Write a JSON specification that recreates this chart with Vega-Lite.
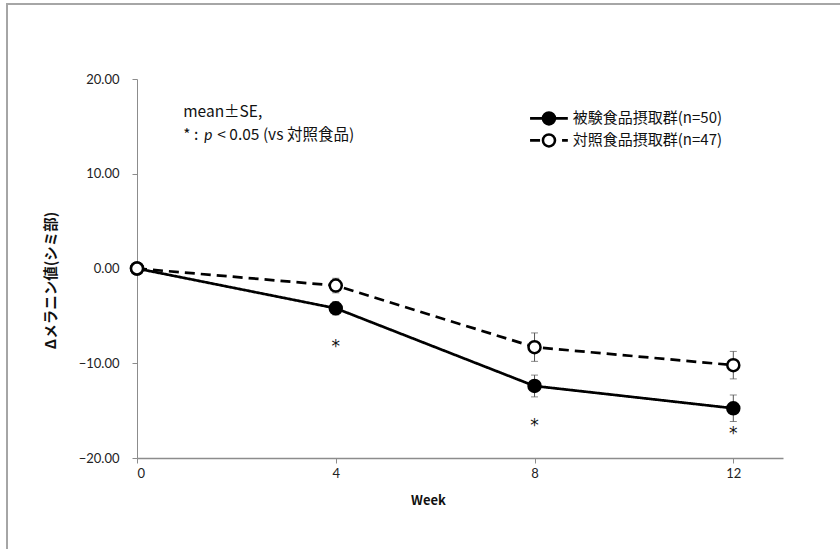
{
  "$schema": "https://vega.github.io/schema/vega-lite/v6.json",
  "width": 646,
  "height": 379,
  "padding": {"left": 137, "top": 79, "right": 57, "bottom": 91},
  "autosize": {"type": "none"},
  "background": "white",
  "config": {
    "view": {"stroke": null},
    "font": "Lato",
    "axis": {
      "grid": false,
      "domainColor": "#8c8c8c",
      "tickColor": "#8c8c8c",
      "labelColor": "#222222",
      "labelFont": "Lato",
      "labelFontSize": 13,
      "titleFont": "Noto Sans CJK JP",
      "titleFontSize": 13,
      "titleFontWeight": "bold",
      "titleColor": "#111111"
    }
  },
  "datasets": {
    "pts": [
      {"week": 0, "group": "被験食品摂取群(n=50)", "mean": 0, "se": 0},
      {"week": 4, "group": "被験食品摂取群(n=50)", "mean": -4.2, "se": 0.7},
      {"week": 8, "group": "被験食品摂取群(n=50)", "mean": -12.4, "se": 1.15},
      {"week": 12, "group": "被験食品摂取群(n=50)", "mean": -14.75, "se": 1.4},
      {"week": 0, "group": "対照食品摂取群(n=47)", "mean": 0, "se": 0},
      {"week": 4, "group": "対照食品摂取群(n=47)", "mean": -1.8, "se": 0.77},
      {"week": 8, "group": "対照食品摂取群(n=47)", "mean": -8.3, "se": 1.5},
      {"week": 12, "group": "対照食品摂取群(n=47)", "mean": -10.2, "se": 1.45}
    ],
    "sig": [
      {"week": 4, "y": -8.0, "label": "*"},
      {"week": 8, "y": -16.3, "label": "*"},
      {"week": 12, "y": -17.2, "label": "*"}
    ],
    "key": [
      {"group": "被験食品摂取群(n=50)", "x0": 7.91, "x1": 8.67, "xm": 8.29, "xt": 8.77, "y": 15.84},
      {"group": "対照食品摂取群(n=47)", "x0": 7.91, "x1": 8.67, "xm": 8.29, "xt": 8.77, "y": 13.52}
    ],
    "notes": [
      {"week": 0.93, "y": 16.5, "t": "mean±SE,"},
      {"week": 0.93, "y": 14.1, "t": "* :"}
    ],
    "notesP": [
      {"week": 0.93, "y": 14.1, "t": "p"}
    ],
    "notesRest": [
      {"week": 0.93, "y": 14.1, "t": "< 0.05 (vs 対照食品)"}
    ]
  },
  "layer": [
    {
      "data": {"name": "pts"},
      "mark": {"type": "errorbar", "ticks": {"size": 7, "thickness": 1, "color": "#555555"}, "rule": {"stroke": "#555555", "strokeWidth": 1}},
      "encoding": {
        "x": {
          "field": "week",
          "type": "quantitative",
          "title": "Week",
          "scale": {"domain": [0, 13], "nice": false, "zero": false},
          "axis": {
            "values": [0, 4, 8, 12],
            "format": "d",
            "domainWidth": 1.5,
            "tickSize": 5,
            "labelPadding": 4,
            "titlePadding": 14,
            "titleX": 291,
            "titleAlign": "center"
          }
        },
        "y": {
          "field": "mean",
          "type": "quantitative",
          "title": "Δメラニン値(シミ部)",
          "scale": {"domain": [-20, 20], "nice": false, "zero": false},
          "axis": {
            "values": [-20, -10, 0, 10, 20],
            "format": ".2f",
            "tickSize": 5,
            "labelPadding": 13,
            "titlePadding": 20,
            "titleFontSize": 14.5,
            "titleY": 201
          }
        },
        "yError": {"field": "se"}
      }
    },
    {
      "data": {"name": "pts"},
      "mark": {"type": "rect", "fill": null, "stroke": "#a6a6a6", "strokeWidth": 1.5, "clip": false},
      "encoding": {
        "x": {"datum": -2.62, "type": "quantitative", "title": "Week"},
        "x2": {"datum": 20},
        "y": {"datum": 27.9, "type": "quantitative", "title": "Δメラニン値(シミ部)"},
        "y2": {"datum": -40}
      }
    },
    {
      "data": {"name": "pts"},
      "mark": {"type": "line", "stroke": "black", "strokeWidth": 2.7},
      "encoding": {
        "x": {"field": "week", "type": "quantitative", "title": "Week"},
        "y": {"field": "mean", "type": "quantitative", "title": "Δメラニン値(シミ部)"},
        "strokeDash": {
          "field": "group",
          "type": "nominal",
          "scale": {"domain": ["被験食品摂取群(n=50)", "対照食品摂取群(n=47)"], "range": [[1, 0], [10, 6]]},
          "legend": null
        }
      }
    },
    {
      "data": {"name": "key"},
      "mark": {"type": "rule", "stroke": "black", "strokeWidth": 2.7},
      "encoding": {
        "x": {"field": "x0", "type": "quantitative", "title": "Week"},
        "x2": {"field": "x1"},
        "y": {"field": "y", "type": "quantitative", "title": "Δメラニン値(シミ部)"},
        "strokeDash": {"field": "group", "type": "nominal", "legend": null}
      }
    },
    {
      "data": {"name": "pts"},
      "mark": {"type": "point", "shape": "circle", "filled": true, "stroke": "black", "strokeWidth": 2.5, "size": 144, "opacity": 1},
      "encoding": {
        "x": {"field": "week", "type": "quantitative", "title": "Week"},
        "y": {"field": "mean", "type": "quantitative", "title": "Δメラニン値(シミ部)"},
        "fill": {
          "field": "group",
          "type": "nominal",
          "scale": {"domain": ["被験食品摂取群(n=50)", "対照食品摂取群(n=47)"], "range": ["black", "white"]},
          "legend": null
        }
      }
    },
    {
      "data": {"name": "key"},
      "mark": {"type": "point", "shape": "circle", "filled": true, "stroke": "black", "strokeWidth": 2.5, "size": 144, "opacity": 1},
      "encoding": {
        "x": {"field": "xm", "type": "quantitative", "title": "Week"},
        "y": {"field": "y", "type": "quantitative", "title": "Δメラニン値(シミ部)"},
        "fill": {"field": "group", "type": "nominal", "legend": null}
      }
    },
    {
      "data": {"name": "key"},
      "mark": {"type": "text", "fontSize": 15, "align": "left", "baseline": "middle", "color": "#111111", "font": "Noto Sans CJK JP"},
      "encoding": {
        "x": {"field": "xt", "type": "quantitative", "title": "Week"},
        "y": {"field": "y", "type": "quantitative", "title": "Δメラニン値(シミ部)"},
        "text": {"field": "group"}
      }
    },
    {
      "data": {"name": "sig"},
      "mark": {"type": "text", "fontSize": 17, "font": "DejaVu Sans", "color": "#111111", "baseline": "middle", "dy": 3},
      "encoding": {
        "x": {"field": "week", "type": "quantitative", "title": "Week"},
        "y": {"field": "y", "type": "quantitative", "title": "Δメラニン値(シミ部)"},
        "text": {"field": "label"}
      }
    },
    {
      "data": {"name": "notes"},
      "mark": {"type": "text", "fontSize": 15.5, "align": "left", "baseline": "middle", "color": "#111111", "font": "Noto Sans CJK JP"},
      "encoding": {
        "x": {"field": "week", "type": "quantitative", "title": "Week"},
        "y": {"field": "y", "type": "quantitative", "title": "Δメラニン値(シミ部)"},
        "text": {"field": "t"}
      }
    },
    {
      "data": {"name": "notesP"},
      "mark": {"type": "text", "fontSize": 15.5, "fontStyle": "italic", "align": "left", "baseline": "middle", "color": "#111111", "dx": 21},
      "encoding": {
        "x": {"field": "week", "type": "quantitative", "title": "Week"},
        "y": {"field": "y", "type": "quantitative", "title": "Δメラニン値(シミ部)"},
        "text": {"field": "t"}
      }
    },
    {
      "data": {"name": "notesRest"},
      "mark": {"type": "text", "fontSize": 15.5, "align": "left", "baseline": "middle", "color": "#111111", "dx": 34, "font": "Noto Sans CJK JP"},
      "encoding": {
        "x": {"field": "week", "type": "quantitative", "title": "Week"},
        "y": {"field": "y", "type": "quantitative", "title": "Δメラニン値(シミ部)"},
        "text": {"field": "t"}
      }
    }
  ]
}
